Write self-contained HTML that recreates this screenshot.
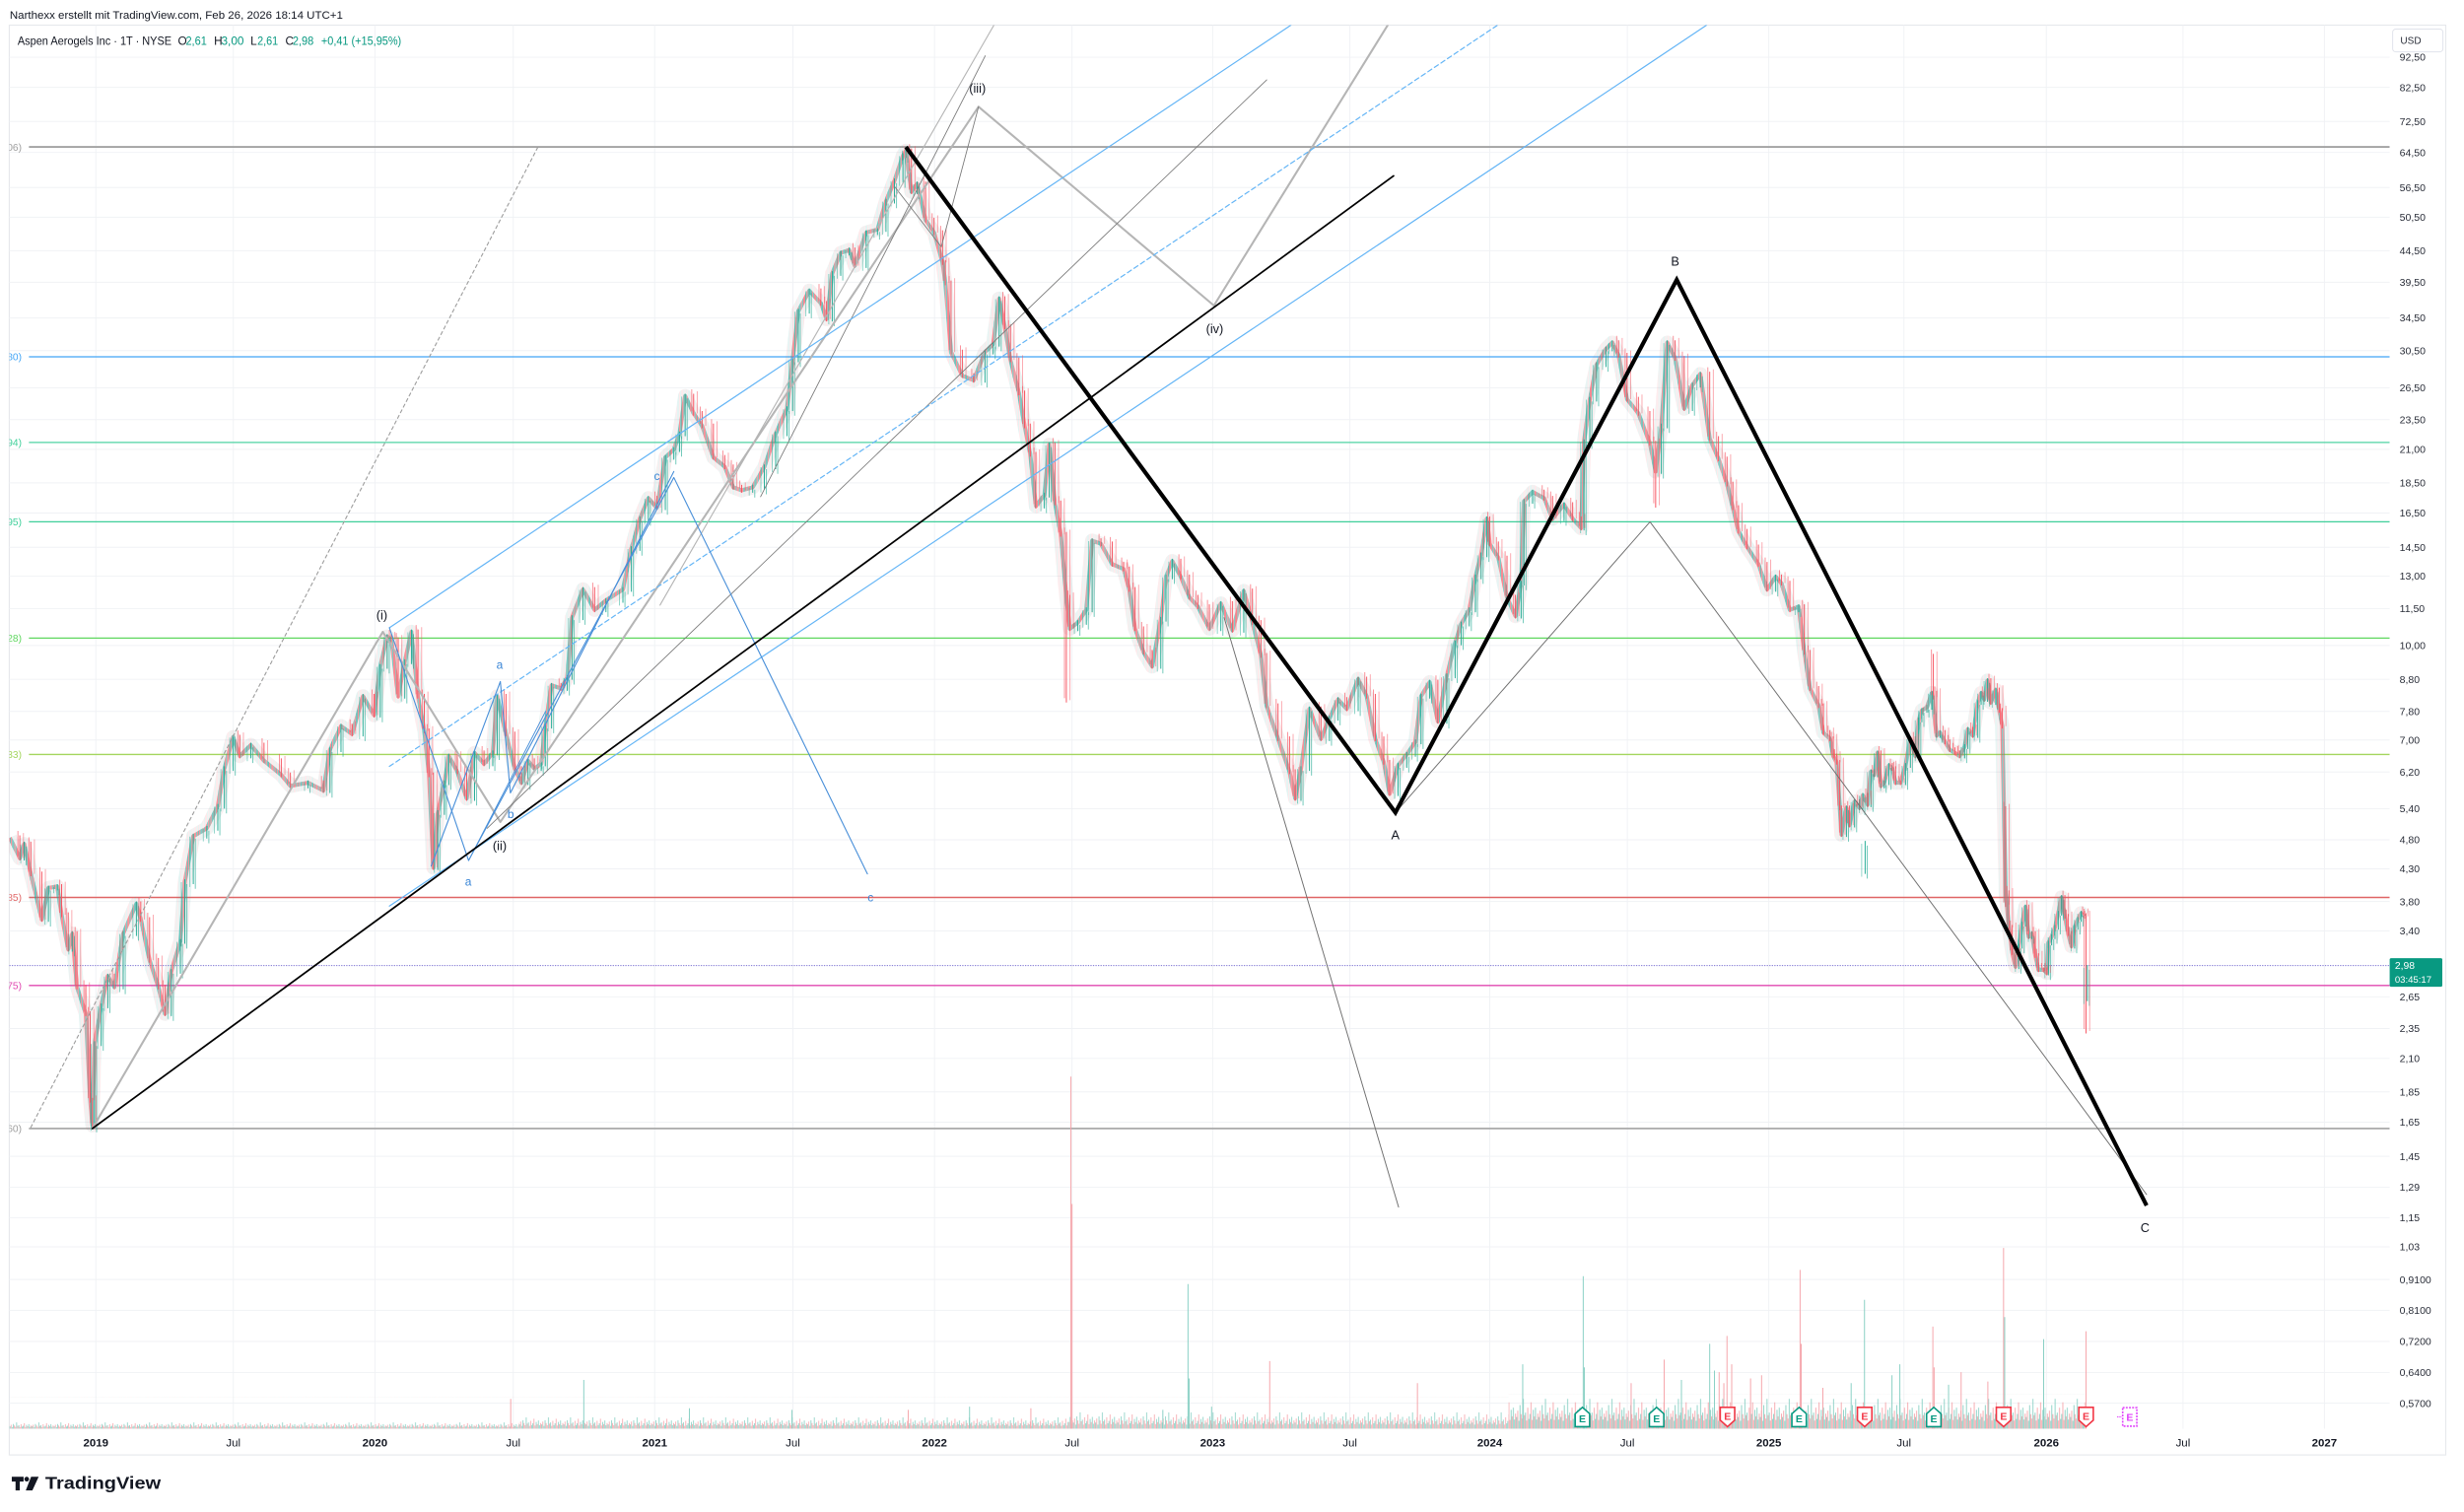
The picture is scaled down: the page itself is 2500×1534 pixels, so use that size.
<!DOCTYPE html>
<html><head><meta charset="utf-8"><title>Aspen Aerogels chart</title>
<style>
html,body{margin:0;padding:0;background:#ffffff;width:2500px;height:1534px;overflow:hidden;}
svg{display:block;}
text{font-family:"Liberation Sans",Arial,sans-serif;}
</style></head><body>
<svg width="2500" height="1534" viewBox="0 0 1568 962" preserveAspectRatio="none" xmlns="http://www.w3.org/2000/svg" xmlns:xlink="http://www.w3.org/1999/xlink">
<defs>
<clipPath id="pc"><rect x="5.9" y="16" width="1514.8" height="893"/></clipPath>
<pattern id="cp" patternUnits="userSpaceOnUse" x="6.3" y="0" width="7.05" height="50">
<rect x="0.08" y="0" width="0.5" height="50" fill="#26a69a"/>
<rect x="0.79" y="0" width="0.5" height="50" fill="#f7525f"/>
<rect x="1.49" y="0" width="0.5" height="50" fill="#26a69a"/>
<rect x="2.2" y="0" width="0.5" height="50" fill="#26a69a"/>
<rect x="2.9" y="0" width="0.5" height="50" fill="#f7525f"/>
<rect x="3.61" y="0" width="0.5" height="50" fill="#26a69a"/>
<rect x="4.31" y="0" width="0.5" height="50" fill="#f7525f"/>
<rect x="5.02" y="0" width="0.5" height="50" fill="#f7525f"/>
<rect x="5.72" y="0" width="0.5" height="50" fill="#26a69a"/>
<rect x="6.43" y="0" width="0.5" height="50" fill="#f7525f"/>
</pattern>
<pattern id="vA" patternUnits="userSpaceOnUse" x="6" y="889" width="14.1" height="20">
<path fill="none" stroke="#86cfc3" stroke-width="0.5" d="M0.35 20V18.5M1.76 20V19M2.47 20V17M4.58 20V16M5.99 20V17.8M8.11 20V18.7M8.81 20V18.1M10.93 20V17.6M12.34 20V17.1M13.04 20V18.8"/>
<path fill="none" stroke="#f5a3a9" stroke-width="0.5" d="M1.06 20V17.5M3.17 20V18M3.88 20V18.8M5.29 20V18.2M6.7 20V19M7.4 20V17.2M9.52 20V16.5M10.22 20V18.9M11.63 20V18.4M13.75 20V18"/>
</pattern>
<pattern id="vB" patternUnits="userSpaceOnUse" x="6" y="889" width="14.1" height="20">
<path fill="none" stroke="#86cfc3" stroke-width="0.5" d="M0.35 20V17.3M1.76 20V18.2M2.47 20V14.6M4.58 20V12.8M5.99 20V16M8.11 20V17.7M8.81 20V16.6M10.93 20V15.7M12.34 20V14.8M13.04 20V17.8"/>
<path fill="none" stroke="#f5a3a9" stroke-width="0.5" d="M1.06 20V15.5M3.17 20V16.4M3.88 20V17.8M5.29 20V16.8M6.7 20V18.2M7.4 20V15M9.52 20V13.7M10.22 20V18M11.63 20V17.1M13.75 20V16.4"/>
</pattern>
<pattern id="vC" patternUnits="userSpaceOnUse" x="6" y="889" width="14.1" height="20">
<path fill="none" stroke="#86cfc3" stroke-width="0.5" d="M0.35 20V16.1M1.76 20V17.4M2.47 20V12.2M4.58 20V9.6M5.99 20V14.3M8.11 20V16.6M8.81 20V15.1M10.93 20V13.8M12.34 20V12.5M13.04 20V16.9"/>
<path fill="none" stroke="#f5a3a9" stroke-width="0.5" d="M1.06 20V13.5M3.17 20V14.8M3.88 20V16.9M5.29 20V15.3M6.7 20V17.4M7.4 20V12.7M9.52 20V10.9M10.22 20V17.1M11.63 20V15.8M13.75 20V14.8"/>
</pattern>
<pattern id="vD" patternUnits="userSpaceOnUse" x="6" y="887" width="14.1" height="22">
<path fill="none" stroke="#86cfc3" stroke-width="0.55" d="M0.35 22V14.6M1.76 22V17M2.47 22V7M4.58 22V3M5.99 22V11.8M8.11 22V15.8M8.81 22V12.6M10.93 22V10M12.34 22V8.6M13.04 22V16.2"/>
<path fill="none" stroke="#f5a3a9" stroke-width="0.55" d="M1.06 22V10.5M3.17 22V12.8M3.88 22V15.6M5.29 22V13.4M6.7 22V16.8M7.4 22V8.6M9.52 22V5.2M10.22 22V16.4M11.63 22V14.2M13.75 22V12.4"/>
</pattern>
</defs>
<rect x="0" y="0" width="1568" height="962" fill="#ffffff"/>

<!-- header -->
<text x="6.2" y="11.8" font-size="6.9" fill="#131722" textLength="212" lengthAdjust="spacingAndGlyphs">Narthexx erstellt mit TradingView.com, Feb 26, 2026 18:14 UTC+1</text>

<!-- frame -->
<rect x="5.9" y="16" width="1550.5" height="909.7" fill="none" stroke="#e6e8ec" stroke-width="0.7"/>

<!-- grid -->
<path fill="none" stroke="#f0f2f5" stroke-width="0.6" d="M5.9 36.4H1520.7M5.9 55.6H1520.7M5.9 77.3H1520.7M5.9 97H1520.7M5.9 119.3H1520.7M5.9 138.2H1520.7M5.9 159.5H1520.7M5.9 179.6H1520.7M5.9 202.3H1520.7M5.9 223.1H1520.7M5.9 246.7H1520.7M5.9 267H1520.7M5.9 285.9H1520.7M5.9 307.2H1520.7M5.9 326.4H1520.7M5.9 348.2H1520.7M5.9 366.6H1520.7M5.9 387.2H1520.7M5.9 410.7H1520.7M5.9 432.2H1520.7M5.9 452.6H1520.7M5.9 470.8H1520.7M5.9 491.2H1520.7M5.9 514.5H1520.7M5.9 534.3H1520.7M5.9 552.8H1520.7M5.9 573.6H1520.7M5.9 592.3H1520.7M5.9 634.2H1520.7M5.9 654.4H1520.7M5.9 673.4H1520.7M5.9 694.7H1520.7M5.9 714H1520.7M5.9 735.7H1520.7M5.9 755.4H1520.7M5.9 774.7H1520.7M5.9 793.3H1520.7M5.9 814.1H1520.7M5.9 833.7H1520.7M5.9 853.5H1520.7M5.9 873.3H1520.7M5.9 892.8H1520.7M61 16V909M148.5 16V909M238.6 16V909M326.6 16V909M416.6 16V909M504.6 16V909M594.7 16V909M682.2 16V909M771.7 16V909M859 16V909M948 16V909M1035.6 16V909M1125.6 16V909M1211.6 16V909M1302.2 16V909M1389.2 16V909M1479.2 16V909"/>

<g clip-path="url(#pc)">
<!-- horizontal level lines -->
<line x1="18.4" y1="93.5" x2="1520.7" y2="93.5" stroke="#a3a3a3" stroke-width="1.2"/>
<line x1="18.4" y1="227" x2="1520.7" y2="227" stroke="#42a5f5" stroke-width="0.8"/>
<line x1="18.4" y1="281.5" x2="1520.7" y2="281.5" stroke="#4fd3a3" stroke-width="0.8"/>
<line x1="18.4" y1="332" x2="1520.7" y2="332" stroke="#3fcf9a" stroke-width="0.8"/>
<line x1="18.4" y1="406" x2="1520.7" y2="406" stroke="#5fd75f" stroke-width="0.8"/>
<line x1="18.4" y1="480" x2="1520.7" y2="480" stroke="#a4d65e" stroke-width="0.9"/>
<line x1="18.4" y1="571" x2="1520.7" y2="571" stroke="#e06666" stroke-width="0.9"/>
<line x1="5.9" y1="614.3" x2="1520.7" y2="614.3" stroke="#8c84d8" stroke-width="0.7" stroke-dasharray="0.8,0.8"/>
<line x1="18.4" y1="627" x2="1520.7" y2="627" stroke="#e048b0" stroke-width="0.8"/>
<line x1="18.4" y1="718" x2="1520.7" y2="718" stroke="#a3a3a3" stroke-width="1"/>
<!-- left partial labels -->
<g font-size="6.4" text-anchor="end">
<text x="13.8" y="95.8" fill="#9e9e9e">06)</text>
<text x="13.8" y="229.3" fill="#42a5f5">80)</text>
<text x="13.8" y="283.8" fill="#3fcf9a">94)</text>
<text x="13.8" y="334.3" fill="#3fcf9a">95)</text>
<text x="13.8" y="408.3" fill="#5fd75f">28)</text>
<text x="13.8" y="482.3" fill="#a4d65e">33)</text>
<text x="13.8" y="573.3" fill="#e06666">85)</text>
<text x="13.8" y="629.3" fill="#e048b0">75)</text>
<text x="13.8" y="720.3" fill="#9e9e9e">60)</text>
</g>

<!-- volume -->
<rect x="6" y="889" width="324" height="20" fill="url(#vA)"/>
<rect x="330" y="889" width="350" height="20" fill="url(#vB)"/>
<rect x="680" y="889" width="280" height="20" fill="url(#vC)"/>
<rect x="960" y="887" width="367" height="22" fill="url(#vD)"/>
<path fill="none" stroke="#f5a3a9" stroke-width="0.6" d="M681.5 909V685M682.2 909V766M325 909V890M578 909V897M656 909V896M808 909V866M902 909V880M1059 909V865M1099 909V850M1121 909V875M1145.5 909V808M1146.2 909V855M1230 909V844M1230.8 909V870M1248 909V873M1275 909V794M1327.5 909V847M1038 909V880M1114 909V877M1160 909V883M1265 909V879M1094 909V873M1102 909V868M1097 909V880"/>
<path fill="none" stroke="#86cfc3" stroke-width="0.6" d="M756 909V817M756.7 909V877M371.5 909V878M438.7 909V896M504 909V897M617 909V895M740 909V897M771 909V895M969 909V868M1007.5 909V812M1008.2 909V870M1088 909V855M1186.5 909V827M1204 909V875M1209 909V868M1275.7 909V838M1300.5 909V852M1070 909V878M1178 909V880M1240 909V881M1091 909V872"/>

<!-- candle band -->
<g id="band">
<polyline fill="none" stroke="url(#cp)" stroke-width="9" stroke-opacity="0.16" stroke-linejoin="round" points="6.3,533 12.6,546 15.4,537 19.6,556 26.6,585 30.8,565 36.4,564 39.2,582 43.4,604 46,594 49,628 54.6,645 57.4,700 58.8,716 60.2,664 64.4,640 68.6,621 72.8,628 78.4,594 86.8,575 89.6,585 95.2,611 100.8,628 105,645 109,618 114.8,599 117.6,561 123,532 131.6,527 138.6,513 142.8,489 148.4,469 152.6,481 159.6,474 168,484 179,493 184.8,500 196,498 205.8,503 210,477 217,462 224,467 231,443 238,455 242,424 246.4,405 249,407 253.4,443 257.6,421 261.8,402 266,443 270,465 273,493 275.8,552 278.6,517 282.8,498 285.6,481 291,491 297,508 302,479 308,486 313.6,479 316.4,443 322,467 327.6,489 331.8,498 336,484 340,489 344.4,486 347,462 351,436 357,438 361,431 364,393 371,375 378.4,388 385.6,382 396.4,375 401.8,349 407.2,330 412.6,317 418,323 423.4,291 428.8,286 432.4,276 436,252 441.4,263 446.8,271 454,291 461.2,297 466.6,310 472,312 479,310 486.4,297 493.6,276 500.8,260 504.4,229 508,198 515,185 522.4,193 526,203 529.6,174 535,161 540.4,159 544,169 551.2,148 558.4,146 563.8,128 569.2,115 574.6,99 576.4,96 580,122 583.6,117 589,140 594.4,148 599.8,167 601.6,180 605.2,224 612.4,239 619.6,242 626.8,224 632,219 635.8,190 639.4,208 643,229 648.4,250 652,271 655.6,289 659.2,322 664.6,315 667.7,283 671.3,320 675,340 678.6,380 680.8,400 685.9,396 691.3,388 695,344 700.6,346 707.8,359 715,362 718.6,375 722.3,400 727.7,415 733.2,424 738.7,394 742,367 746,357 751.4,367 756.9,380 762.3,386 769.6,400 776.9,384 784.2,401 791.5,376 797,396 802.4,417 806,449 813.3,470 820.6,491 824.2,508 827.9,489 833.3,451 840.6,470 846,457 851.5,445 857,451 864.3,432 869.7,443 875.2,470 880.6,485 884.3,505 889.7,487 895.2,480 900.7,472 904.3,443 909.8,434 915,459 920.7,430 926,409 929.8,397 935,388 938.9,367 942.5,353 946.2,330 948,346 953.5,355 959,380 964.4,392 968,371 969.8,319 975.3,313 982.6,317 988,330 995.3,321 1000.8,330 1006.2,336 1008,281 1011.7,254 1016,232 1022,222 1026,218 1030,226 1035.4,254 1042.6,263 1049.9,282 1053.6,300 1057.2,271 1061,218 1066,228 1071.8,260 1077,245 1082,238 1088,279 1093.6,292 1099,308 1102.7,323 1106.3,338 1111.8,348 1119,359 1124.5,375 1130,367 1133.6,371 1139,388 1144.6,386 1148.2,415 1151.8,438 1157.3,449 1160.3,466 1164.5,470 1166.6,481 1168.7,485 1170.8,514 1171.8,531 1175,514 1177,525 1180.2,510 1183.3,514 1185.4,506 1188.5,512 1190.6,491 1192.7,493 1194.8,479 1196.9,500 1199,498 1202.1,487 1204.2,489 1206.3,498 1209.4,498 1212.6,487 1215.7,470 1218.8,481 1221,458 1223,452 1226.2,450 1229.3,441 1232.4,468 1234.5,466 1237.7,472 1240.8,477 1244,479 1247,481 1250.2,475 1252.3,464 1255.4,468 1258.6,447 1260.7,441 1262.7,445 1264.8,433 1266.9,447 1270,439 1272.2,452 1274.2,462 1276.3,568 1278.4,590 1280.5,606 1282.6,615 1284.7,602 1286.8,588 1288.9,577 1291,596 1293,594 1295.2,608 1297.2,617 1300.4,617 1302.5,619 1303.5,600 1305.6,596 1307.7,590 1309.8,581 1311.9,571 1314,583 1316.1,594 1318.2,602 1320.2,590 1322.3,585 1324.4,581 1326.5,583"/>
<polyline fill="none" stroke="url(#cp)" stroke-width="2.6" stroke-opacity="0.8" stroke-linejoin="round" points="6.3,533 12.6,546 15.4,537 19.6,556 26.6,585 30.8,565 36.4,564 39.2,582 43.4,604 46,594 49,628 54.6,645 57.4,700 58.8,716 60.2,664 64.4,640 68.6,621 72.8,628 78.4,594 86.8,575 89.6,585 95.2,611 100.8,628 105,645 109,618 114.8,599 117.6,561 123,532 131.6,527 138.6,513 142.8,489 148.4,469 152.6,481 159.6,474 168,484 179,493 184.8,500 196,498 205.8,503 210,477 217,462 224,467 231,443 238,455 242,424 246.4,405 249,407 253.4,443 257.6,421 261.8,402 266,443 270,465 273,493 275.8,552 278.6,517 282.8,498 285.6,481 291,491 297,508 302,479 308,486 313.6,479 316.4,443 322,467 327.6,489 331.8,498 336,484 340,489 344.4,486 347,462 351,436 357,438 361,431 364,393 371,375 378.4,388 385.6,382 396.4,375 401.8,349 407.2,330 412.6,317 418,323 423.4,291 428.8,286 432.4,276 436,252 441.4,263 446.8,271 454,291 461.2,297 466.6,310 472,312 479,310 486.4,297 493.6,276 500.8,260 504.4,229 508,198 515,185 522.4,193 526,203 529.6,174 535,161 540.4,159 544,169 551.2,148 558.4,146 563.8,128 569.2,115 574.6,99 576.4,96 580,122 583.6,117 589,140 594.4,148 599.8,167 601.6,180 605.2,224 612.4,239 619.6,242 626.8,224 632,219 635.8,190 639.4,208 643,229 648.4,250 652,271 655.6,289 659.2,322 664.6,315 667.7,283 671.3,320 675,340 678.6,380 680.8,400 685.9,396 691.3,388 695,344 700.6,346 707.8,359 715,362 718.6,375 722.3,400 727.7,415 733.2,424 738.7,394 742,367 746,357 751.4,367 756.9,380 762.3,386 769.6,400 776.9,384 784.2,401 791.5,376 797,396 802.4,417 806,449 813.3,470 820.6,491 824.2,508 827.9,489 833.3,451 840.6,470 846,457 851.5,445 857,451 864.3,432 869.7,443 875.2,470 880.6,485 884.3,505 889.7,487 895.2,480 900.7,472 904.3,443 909.8,434 915,459 920.7,430 926,409 929.8,397 935,388 938.9,367 942.5,353 946.2,330 948,346 953.5,355 959,380 964.4,392 968,371 969.8,319 975.3,313 982.6,317 988,330 995.3,321 1000.8,330 1006.2,336 1008,281 1011.7,254 1016,232 1022,222 1026,218 1030,226 1035.4,254 1042.6,263 1049.9,282 1053.6,300 1057.2,271 1061,218 1066,228 1071.8,260 1077,245 1082,238 1088,279 1093.6,292 1099,308 1102.7,323 1106.3,338 1111.8,348 1119,359 1124.5,375 1130,367 1133.6,371 1139,388 1144.6,386 1148.2,415 1151.8,438 1157.3,449 1160.3,466 1164.5,470 1166.6,481 1168.7,485 1170.8,514 1171.8,531 1175,514 1177,525 1180.2,510 1183.3,514 1185.4,506 1188.5,512 1190.6,491 1192.7,493 1194.8,479 1196.9,500 1199,498 1202.1,487 1204.2,489 1206.3,498 1209.4,498 1212.6,487 1215.7,470 1218.8,481 1221,458 1223,452 1226.2,450 1229.3,441 1232.4,468 1234.5,466 1237.7,472 1240.8,477 1244,479 1247,481 1250.2,475 1252.3,464 1255.4,468 1258.6,447 1260.7,441 1262.7,445 1264.8,433 1266.9,447 1270,439 1272.2,452 1274.2,462 1276.3,568 1278.4,590 1280.5,606 1282.6,615 1284.7,602 1286.8,588 1288.9,577 1291,596 1293,594 1295.2,608 1297.2,617 1300.4,617 1302.5,619 1303.5,600 1305.6,596 1307.7,590 1309.8,581 1311.9,571 1314,583 1316.1,594 1318.2,602 1320.2,590 1322.3,585 1324.4,581 1326.5,583"/>
</g>
<!-- candle bars -->
<path id="gbars" fill="none" stroke="#22ab94" stroke-width="0.6" d="M15.4 535.5V547.5M30.8 563.5V586.5M36.4 562.5V566.5M46 592.5V605.5M60.2 662.5V717.5M64.4 638.5V665.5M68.6 619.5V641.5M78.4 592.5V629.5M86.8 573.5V595.5M109 616.5V646.5M114.8 597.5V619.5M117.6 559.5V600.5M123 530.5V562.5M131.6 525.5V533.5M138.6 511.5V528.5M142.8 487.5V514.5M148.4 467.5V490.5M159.6 472.5V482.5M196 496.5V501.5M210 475.5V504.5M217 460.5V478.5M231 441.5V468.5M242 422.5V456.5M246.4 403.5V425.5M257.6 419.5V444.5M261.8 400.5V422.5M278.6 515.5V553.5M282.8 496.5V518.5M285.6 479.5V499.5M302 477.5V509.5M313.6 477.5V487.5M316.4 441.5V480.5M336 482.5V499.5M344.4 484.5V490.5M347 460.5V487.5M351 434.5V463.5M361 429.5V439.5M364 391.5V432.5M371 373.5V394.5M385.6 380.5V389.5M396.4 373.5V383.5M401.8 347.5V376.5M407.2 328.5V350.5M412.6 315.5V331.5M423.4 289.5V324.5M428.8 284.5V292.5M432.4 274.5V287.5M436 250.5V277.5M479 308.5V313.5M486.4 295.5V311.5M493.6 274.5V298.5M500.8 258.5V277.5M504.4 227.5V261.5M508 196.5V230.5M515 183.5V199.5M529.6 172.5V204.5M535 159.5V175.5M540.4 157.5V162.5M551.2 146.5V170.5M558.4 144.5V149.5M563.8 126.5V147.5M569.2 113.5V129.5M574.6 97.5V116.5M576.4 94V100.5M583.6 115.5V123.5M626.8 222.5V243.5M632 217.5V225.5M635.8 188.5V220.5M664.6 313.5V323.5M667.7 281.5V316.5M685.9 394.5V401.5M691.3 386.5V397.5M695 342.5V389.5M738.7 392.5V425.5M742 365.5V395.5M746 355.5V368.5M776.9 382.5V401.5M791.5 374.5V402.5M827.9 487.5V509.5M833.3 449.5V490.5M846 455.5V471.5M851.5 443.5V458.5M864.3 430.5V452.5M889.7 485.5V506.5M895.2 478.5V488.5M900.7 470.5V481.5M904.3 441.5V473.5M909.8 432.5V444.5M920.7 428.5V460.5M926 407.5V431.5M929.8 395.5V410.5M935 386.5V398.5M938.9 365.5V389.5M942.5 351.5V368.5M946.2 328.5V354.5M968 369.5V393.5M969.8 317.5V372.5M975.3 311.5V320.5M995.3 319.5V331.5M1008 279.5V337.5M1011.7 252.5V282.5M1016 230.5V255.5M1022 220.5V233.5M1026 216.5V223.5M1057.2 269.5V301.5M1061 216.5V272.5M1077 243.5V261.5M1082 236.5V246.5M1130 365.5V376.5M1144.6 384.5V389.5M1175 512.5V532.5M1180.2 508.5V526.5M1185.4 504.5V515.5M1186.9 535V556M1190.6 489.5V513.5M1194.8 477.5V494.5M1199 496.5V501.5M1202.1 485.5V499.5M1212.6 485.5V499.5M1215.7 468.5V488.5M1221 456.5V482.5M1223 450.5V459.5M1226.2 448.5V453.5M1229.3 439.5V451.5M1234.5 464.5V469.5M1250.2 473.5V482.5M1252.3 462.5V476.5M1258.6 445.5V469.5M1260.7 439.5V448.5M1264.8 431.5V446.5M1270 437.5V448.5M1284.7 600.5V616.5M1286.8 586.5V603.5M1288.9 575.5V589.5M1293 592.5V597.5M1303.5 598.5V620.5M1305.6 594.5V601.5M1307.7 588.5V597.5M1309.8 579.5V591.5M1311.9 569.5V582.5M1320.2 588.5V603.5M1322.3 583.5V591.5M1324.4 579.5V586.5M1328.3 614V637"/>
<path id="rbars" fill="none" stroke="#f7525f" stroke-width="0.6" d="M12.6 531.5V547.5M19.6 535.5V557.5M26.6 554.5V586.5M39.2 562.5V583.5M43.4 580.5V605.5M49 592.5V629.5M54.6 626.5V646.5M57.4 643.5V701.5M58.8 698.5V717.5M72.8 619.5V629.5M89.6 573.5V586.5M95.2 583.5V612.5M100.8 609.5V629.5M105 626.5V646.5M152.6 467.5V482.5M168 472.5V485.5M179 482.5V494.5M184.8 491.5V501.5M205.8 496.5V504.5M224 460.5V468.5M238 441.5V456.5M249 403.5V408.5M253.4 405.5V444.5M266 400.5V444.5M270 441.5V466.5M273 463.5V494.5M275.8 491.5V553.5M291 479.5V492.5M297 489.5V509.5M308 477.5V487.5M322 441.5V468.5M327.6 465.5V490.5M331.8 487.5V499.5M340 482.5V490.5M357 434.5V439.5M378.4 373.5V389.5M418 315.5V324.5M441.4 250.5V264.5M446.8 261.5V272.5M454 269.5V292.5M461.2 289.5V298.5M466.6 295.5V311.5M472 308.5V313.5M522.4 183.5V194.5M526 191.5V204.5M544 157.5V170.5M580 94.5V123.5M589 115.5V141.5M594.4 138.5V149.5M599.8 146.5V168.5M601.6 165.5V181.5M605.2 178.5V225.5M612.4 222.5V240.5M619.6 237.5V243.5M639.4 188.5V209.5M643 206.5V230.5M648.4 227.5V251.5M652 248.5V272.5M655.6 269.5V290.5M659.2 287.5V323.5M671.3 281.5V321.5M675 318.5V341.5M678.6 338.5V447M680.8 378.5V401.5M700.6 342.5V347.5M707.8 344.5V360.5M715 357.5V363.5M718.6 360.5V376.5M722.3 373.5V401.5M727.7 398.5V416.5M733.2 413.5V425.5M751.4 355.5V368.5M756.9 365.5V381.5M762.3 378.5V387.5M769.6 384.5V401.5M784.2 382.5V402.5M797 374.5V397.5M802.4 394.5V418.5M806 415.5V450.5M813.3 447.5V471.5M820.6 468.5V492.5M824.2 489.5V509.5M840.6 449.5V471.5M857 443.5V452.5M869.7 430.5V444.5M875.2 441.5V471.5M880.6 468.5V486.5M884.3 483.5V506.5M915 432.5V460.5M948 328.5V347.5M953.5 344.5V356.5M959 353.5V381.5M964.4 378.5V393.5M982.6 311.5V318.5M988 315.5V331.5M1000.8 319.5V331.5M1006.2 328.5V337.5M1030 216.5V227.5M1035.4 224.5V255.5M1042.6 252.5V264.5M1049.9 261.5V283.5M1053.6 280.5V323M1066 216.5V229.5M1071.8 226.5V261.5M1088 236.5V280.5M1093.6 277.5V293.5M1099 290.5V309.5M1102.7 306.5V324.5M1106.3 321.5V339.5M1111.8 336.5V349.5M1119 346.5V360.5M1124.5 357.5V376.5M1133.6 365.5V372.5M1139 369.5V389.5M1148.2 384.5V416.5M1151.8 413.5V439.5M1157.3 436.5V450.5M1160.3 447.5V467.5M1164.5 464.5V471.5M1166.6 468.5V482.5M1168.7 479.5V486.5M1170.8 483.5V515.5M1171.8 512.5V532.5M1177 512.5V526.5M1183.3 508.5V515.5M1188.5 504.5V513.5M1192.7 489.5V494.5M1196.9 477.5V501.5M1204.2 485.5V490.5M1206.3 487.5V499.5M1209.4 496.5V499.5M1218.8 468.5V482.5M1230.3 416V445M1232.4 439.5V469.5M1237.7 464.5V473.5M1240.8 470.5V478.5M1244 475.5V480.5M1247 477.5V482.5M1255.4 462.5V469.5M1262.7 439.5V446.5M1266.9 431.5V448.5M1272.2 437.5V453.5M1274.2 450.5V463.5M1276.3 513V577M1278.4 566.5V591.5M1280.5 588.5V607.5M1282.6 604.5V616.5M1291 575.5V597.5M1295.2 592.5V609.5M1297.2 606.5V618.5M1300.4 615.5V618.5M1302.5 615.5V620.5M1314 569.5V584.5M1316.1 581.5V595.5M1318.2 592.5V603.5M1326.5 579.5V584.5M1327.5 581V657.5"/>
<use href="#gbars" xlink:href="#gbars" transform="translate(1.3,3)" opacity="0.65"/>
<use href="#rbars" xlink:href="#rbars" transform="translate(-1.2,-2.8)" opacity="0.65"/>
<use href="#rbars" xlink:href="#rbars" transform="translate(2.3,-1.5)" opacity="0.5"/>
<use href="#gbars" xlink:href="#gbars" transform="translate(-2.2,1.8)" opacity="0.5"/>

<!-- drawings -->
<g fill="none" stroke-linejoin="round" stroke-linecap="round">
<line x1="19.6" y1="717.3" x2="342.6" y2="93" stroke="#9e9e9e" stroke-width="0.7" stroke-dasharray="2,2"/>
<polyline points="58.8,718 243.6,402 318.4,523 622.7,67.9 772.5,194.4 883.1,16" stroke="#b5b5b5" stroke-width="1.3"/>
<line x1="310" y1="527" x2="806.1" y2="50.8" stroke="#7a7a7a" stroke-width="0.55"/>
<polyline points="569.5,119 599,157 622.7,68" stroke="#7a7a7a" stroke-width="0.55"/>
<line x1="484" y1="316" x2="627" y2="35.5" stroke="#7a7a7a" stroke-width="0.55"/>
<line x1="420" y1="385" x2="632.5" y2="16" stroke="#b5b5b5" stroke-width="0.7"/>
<line x1="779" y1="393" x2="890" y2="768" stroke="#6e6e6e" stroke-width="0.6"/>
<polyline points="888,517 1050,332 1366,760" stroke="#6e6e6e" stroke-width="0.6"/>
<line x1="247.8" y1="399.4" x2="821.5" y2="16" stroke="#64b5f6" stroke-width="0.75"/>
<line x1="247.8" y1="576.5" x2="1086" y2="16" stroke="#64b5f6" stroke-width="0.75"/>
<line x1="247.8" y1="487.6" x2="953" y2="16" stroke="#64b5f6" stroke-width="0.75" stroke-dasharray="3,2"/>
<polyline points="247.8,399.4 298.2,547.5 428.8,303.8 552,556" stroke="#4a90d9" stroke-width="0.7"/>
<polyline points="274.4,551 318.4,433.6 324.8,504.5 428.8,300" stroke="#4a90d9" stroke-width="0.7"/>
<line x1="298.2" y1="547.5" x2="347.2" y2="452.6" stroke="#4a90d9" stroke-width="0.6"/>
<line x1="58.8" y1="718" x2="886.8" y2="111.9" stroke="#000" stroke-width="1.1"/>
<polyline points="576.5,93.5 888,517 1067,178 1366,767" stroke="#000" stroke-width="2.6" stroke-linecap="butt" stroke-linejoin="miter"/>
</g>
</g>

<!-- wave labels -->
<g font-size="8" fill="#131722" text-anchor="middle">
<text x="243" y="394">(i)</text>
<text x="318" y="541">(ii)</text>
<text x="622" y="59">(iii)</text>
<text x="773" y="212">(iv)</text>
<text x="888" y="534">A</text>
<text x="1066" y="169">B</text>
<text x="1365" y="784">C</text>
</g>
<g font-size="7.5" fill="#3b86d6" text-anchor="middle">
<text x="318" y="425.5">a</text>
<text x="298" y="563.5">a</text>
<text x="325" y="520.5">b</text>
<text x="418" y="305.5">c</text>
<text x="554" y="573.5">c</text>
</g>

<!-- earnings markers -->
<g stroke-width="1" font-size="6.6" font-weight="bold" text-anchor="middle">
<path d="M1002.4,907.7V899.5L1007,895.4L1011.6,899.5V907.7Z" fill="#fff" stroke="#089981"/><text x="1007" y="904.8" fill="#089981">E</text>
<path d="M1049.6,907.7V899.5L1054.2,895.4L1058.8,899.5V907.7Z" fill="#fff" stroke="#089981"/><text x="1054.2" y="904.8" fill="#089981">E</text>
<path d="M1094.7,895.4H1103.9V903.6L1099.3,907.7L1094.7,903.6Z" fill="#fff" stroke="#f23645"/><text x="1099.3" y="903.4" fill="#f23645">E</text>
<path d="M1140.3,907.7V899.5L1144.9,895.4L1149.5,899.5V907.7Z" fill="#fff" stroke="#089981"/><text x="1144.9" y="904.8" fill="#089981">E</text>
<path d="M1182,895.4H1191.2V903.6L1186.6,907.7L1182,903.6Z" fill="#fff" stroke="#f23645"/><text x="1186.6" y="903.4" fill="#f23645">E</text>
<path d="M1226,907.7V899.5L1230.6,895.4L1235.2,899.5V907.7Z" fill="#fff" stroke="#089981"/><text x="1230.6" y="904.8" fill="#089981">E</text>
<path d="M1270.4,895.4H1279.6V903.6L1275,907.7L1270.4,903.6Z" fill="#fff" stroke="#f23645"/><text x="1275" y="903.4" fill="#f23645">E</text>
<path d="M1322.9,895.4H1332.1V903.6L1327.5,907.7L1322.9,903.6Z" fill="#fff" stroke="#f23645"/><text x="1327.5" y="903.4" fill="#f23645">E</text>
<rect x="1350.8" y="895.6" width="9" height="11.8" fill="#fff" stroke="#e040fb" stroke-dasharray="1.2,0.8"/><text x="1355.3" y="904.1" fill="#e040fb">E</text>
<line x1="1347.3" y1="901.5" x2="1350.3" y2="901.5" stroke="#e040fb" stroke-width="0.8" stroke-dasharray="0.8,0.6"/>
</g>

<!-- price axis labels -->
<g font-size="6.6" fill="#2a2e39">
<text x="1527" y="38.7">92,50</text>
<text x="1527" y="57.9">82,50</text>
<text x="1527" y="79.6">72,50</text>
<text x="1527" y="99.3">64,50</text>
<text x="1527" y="121.6">56,50</text>
<text x="1527" y="140.5">50,50</text>
<text x="1527" y="161.8">44,50</text>
<text x="1527" y="181.9">39,50</text>
<text x="1527" y="204.6">34,50</text>
<text x="1527" y="225.4">30,50</text>
<text x="1527" y="249">26,50</text>
<text x="1527" y="269.3">23,50</text>
<text x="1527" y="288.2">21,00</text>
<text x="1527" y="309.5">18,50</text>
<text x="1527" y="328.7">16,50</text>
<text x="1527" y="350.5">14,50</text>
<text x="1527" y="368.9">13,00</text>
<text x="1527" y="389.5">11,50</text>
<text x="1527" y="413">10,00</text>
<text x="1527" y="434.5">8,80</text>
<text x="1527" y="454.9">7,80</text>
<text x="1527" y="473.1">7,00</text>
<text x="1527" y="493.5">6,20</text>
<text x="1527" y="516.8">5,40</text>
<text x="1527" y="536.6">4,80</text>
<text x="1527" y="555.1">4,30</text>
<text x="1527" y="575.9">3,80</text>
<text x="1527" y="594.6">3,40</text>
<text x="1527" y="636.5">2,65</text>
<text x="1527" y="656.7">2,35</text>
<text x="1527" y="675.7">2,10</text>
<text x="1527" y="697">1,85</text>
<text x="1527" y="716.3">1,65</text>
<text x="1527" y="738">1,45</text>
<text x="1527" y="757.7">1,29</text>
<text x="1527" y="777">1,15</text>
<text x="1527" y="795.6">1,03</text>
<text x="1527" y="816.4">0,9100</text>
<text x="1527" y="836">0,8100</text>
<text x="1527" y="855.8">0,7200</text>
<text x="1527" y="875.6">0,6400</text>
<text x="1527" y="895.1">0,5700</text>
</g>
<rect x="1522.6" y="18.5" width="32" height="14.5" rx="2" fill="#ffffff" stroke="#e0e3eb" stroke-width="0.6"/>
<text x="1527.5" y="28" font-size="6.3" fill="#2a2e39">USD</text>
<rect x="1520.7" y="609.6" width="33.5" height="18.2" rx="1" fill="#089981"/>
<text x="1524" y="616.6" font-size="6.5" fill="#ffffff">2,98</text>
<text x="1524" y="625.2" font-size="6" fill="#ffffff">03:45:17</text>

<!-- time axis -->
<g font-size="7.2" fill="#131722" text-anchor="middle">
<text x="61" y="920.4" font-weight="bold">2019</text>
<text x="148.5" y="920.4">Jul</text>
<text x="238.6" y="920.4" font-weight="bold">2020</text>
<text x="326.6" y="920.4">Jul</text>
<text x="416.6" y="920.4" font-weight="bold">2021</text>
<text x="504.6" y="920.4">Jul</text>
<text x="594.7" y="920.4" font-weight="bold">2022</text>
<text x="682.2" y="920.4">Jul</text>
<text x="771.7" y="920.4" font-weight="bold">2023</text>
<text x="859" y="920.4">Jul</text>
<text x="948" y="920.4" font-weight="bold">2024</text>
<text x="1035.6" y="920.4">Jul</text>
<text x="1125.6" y="920.4" font-weight="bold">2025</text>
<text x="1211.6" y="920.4">Jul</text>
<text x="1302.2" y="920.4" font-weight="bold">2026</text>
<text x="1389.2" y="920.4">Jul</text>
<text x="1479.2" y="920.4" font-weight="bold">2027</text>
</g>

<!-- legend -->
<g font-size="7.4">
<text x="11.2" y="28.6" fill="#131722" textLength="98" lengthAdjust="spacingAndGlyphs">Aspen Aerogels Inc · 1T · NYSE</text>
<text x="113.2" y="28.6" fill="#131722">O</text>
<text x="118.2" y="28.6" fill="#089981" textLength="13.4" lengthAdjust="spacingAndGlyphs">2,61</text>
<text x="136.2" y="28.6" fill="#131722">H</text>
<text x="140.8" y="28.6" fill="#089981" textLength="14.4" lengthAdjust="spacingAndGlyphs">3,00</text>
<text x="159.4" y="28.6" fill="#131722">L</text>
<text x="163.8" y="28.6" fill="#089981" textLength="13.2" lengthAdjust="spacingAndGlyphs">2,61</text>
<text x="181.6" y="28.6" fill="#131722">C</text>
<text x="186.2" y="28.6" fill="#089981" textLength="13.4" lengthAdjust="spacingAndGlyphs">2,98</text>
<text x="204.4" y="28.6" fill="#089981" textLength="51" lengthAdjust="spacingAndGlyphs">+0,41 (+15,95%)</text>
</g>

<!-- TradingView logo -->
<g fill="#131722">
<path d="M7.5,939.6H15V942.6H12.6V948.3H9.9V942.6H7.5Z"/>
<circle cx="17" cy="941.1" r="1.5"/>
<path d="M19.8,939.6H24.6L20.6,948.3H16.4Z"/>
<text x="28.8" y="947.3" font-size="11.2" font-weight="bold" textLength="73.5" lengthAdjust="spacingAndGlyphs">TradingView</text>
</g>
</svg>
</body></html>
